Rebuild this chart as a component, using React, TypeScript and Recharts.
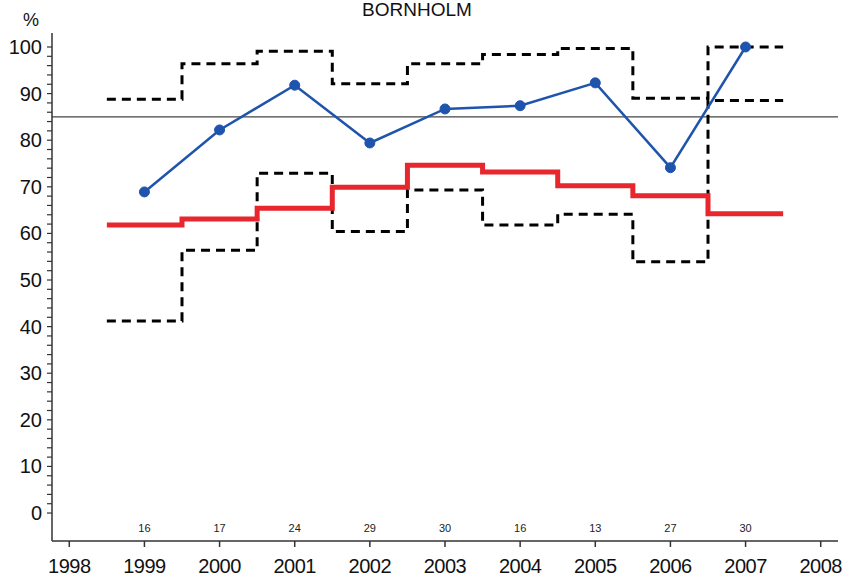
import React from "react"
import {
  LineChart,
  Line,
  XAxis,
  YAxis,
  ReferenceLine,
} from "recharts"

// Årlige værdier
const years = [1999, 2000, 2001, 2002, 2003, 2004, 2005, 2006, 2007]
const observed = [68.9, 82.2, 91.8, 79.4, 86.7, 87.4, 92.3, 74.1, 100]
const expected = [61.8, 63.1, 65.4, 69.9, 74.6, 73.2, 70.2, 68.1, 64.2]
const upper = [88.8, 96.4, 99.1, 92.1, 96.4, 98.4, 99.7, 89.0, 100]
const lower = [41.2, 56.4, 72.9, 60.4, 69.3, 61.8, 64.1, 53.9, 88.5]
const counts = [16, 17, 24, 29, 30, 16, 13, 27, 30]
const target = 85

const xTicks = [1998, 1999, 2000, 2001, 2002, 2003, 2004, 2005, 2006, 2007, 2008]
const yTicks = Array.from({ length: 51 }, (_, i) => i * 2)

const BLUE = "#1f54ad"
const RED = "#e8262e"
const FONT = "'Liberation Sans', Arial, Helvetica, sans-serif"

// trappekurve: hvert år dækker [år-0.5, år+0.5]
function steps(values: number[]) {
  const pts = years.map((y, i) => ({ x: y - 0.5, v: values[i] }))
  pts.push({ x: years[years.length - 1] + 0.5, v: values[values.length - 1] })
  return pts
}

const observedData = years.map((y, i) => ({ x: y, v: observed[i] }))

function YearTick({ x, y, payload }: { x: number; y: number; payload: { value: number } }) {
  const idx = years.indexOf(payload.value)
  return (
    <g>
      <text
        x={x}
        y={y + 26}
        textAnchor="middle"
        fontSize={20}
        letterSpacing={-0.5}
        fill="#111"
        fontFamily={FONT}
      >
        {payload.value}
      </text>
      {idx >= 0 && (
        <text x={x} y={y - 15.5} textAnchor="middle" fontSize={11} fill="#222" fontFamily={FONT}>
          {counts[idx]}
        </text>
      )}
    </g>
  )
}

function ValueTick({ x, y, payload }: { x: number; y: number; payload: { value: number } }) {
  if (payload.value % 10 !== 0) return <g />
  return (
    <text
      x={x}
      y={y}
      dy={7}
      textAnchor="end"
      fontSize={20}
      fill="#111"
      fontFamily={FONT}
    >
      {payload.value}
    </text>
  )
}

export default function App() {
  return (
    <div style={{ position: "absolute", left: 0, top: 0, width: 844, height: 577, background: "#fff" }}>
      <LineChart
        width={844}
        height={577}
        margin={{ top: 33, right: 6, bottom: 0, left: 0 }}
      >
        <XAxis
          type="number"
          dataKey="x"
          domain={[1997.77, 2008.23]}
          ticks={xTicks}
          interval={0}
          height={36}
          tickSize={6}
          tickMargin={0}
          stroke="#333"
          axisLine={{ stroke: "#333", strokeWidth: 1.5 }}
          tickLine={{ stroke: "#333", strokeWidth: 1.5 }}
          tick={YearTick}
          allowDataOverflow
        />
        <XAxis
          xAxisId="top"
          type="number"
          orientation="top"
          domain={[1997.77, 2008.23]}
          height={0}
          tick={false}
          tickLine={false}
          axisLine={{ stroke: "#333", strokeWidth: 1.5 }}
        />
        <YAxis
          type="number"
          domain={[-6, 103]}
          ticks={yTicks}
          interval={0}
          width={52}
          tickSize={5}
          tickMargin={5}
          axisLine={{ stroke: "#333", strokeWidth: 1.5 }}
          tickLine={{ stroke: "#333", strokeWidth: 1.2 }}
          tick={ValueTick}
          allowDataOverflow
        />
        <YAxis
          yAxisId="right"
          orientation="right"
          type="number"
          domain={[-6, 103]}
          width={0}
          tick={false}
          tickLine={false}
          axisLine={{ stroke: "#333", strokeWidth: 1.5 }}
        />
        <ReferenceLine y={target} stroke="#444" strokeWidth={1.2} />
        <Line
          data={steps(upper)}
          dataKey="v"
          type="stepAfter"
          stroke="#000"
          strokeWidth={3}
          strokeDasharray="9 6"
          dot={false}
          activeDot={false}
          isAnimationActive={false}
        />
        <Line
          data={steps(lower)}
          dataKey="v"
          type="stepAfter"
          stroke="#000"
          strokeWidth={3}
          strokeDasharray="9 6"
          dot={false}
          activeDot={false}
          isAnimationActive={false}
        />
        <Line
          data={steps(expected)}
          dataKey="v"
          type="stepAfter"
          stroke={RED}
          strokeWidth={5}
          dot={false}
          activeDot={false}
          isAnimationActive={false}
        />
        <Line
          data={observedData}
          dataKey="v"
          type="linear"
          stroke={BLUE}
          strokeWidth={2.5}
          dot={{ r: 5, fill: BLUE, stroke: BLUE, strokeWidth: 1 }}
          activeDot={false}
          isAnimationActive={false}
        />
      </LineChart>
      <svg
        width={844}
        height={577}
        style={{ position: "absolute", left: 0, top: 0, pointerEvents: "none" }}
      >
        <text x={417} y={16} textAnchor="middle" fontSize={19} fill="#111" fontFamily={FONT}>
          BORNHOLM
        </text>
        <text x={31} y={26} textAnchor="middle" fontSize={18} fill="#111" fontFamily={FONT}>
          %
        </text>
      </svg>
    </div>
  )
}
